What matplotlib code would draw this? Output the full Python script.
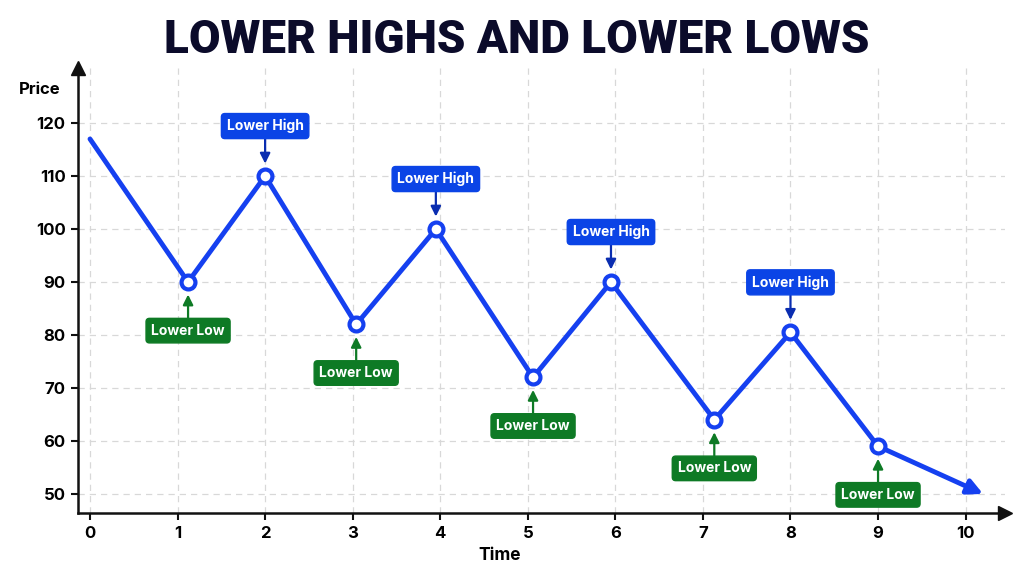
import matplotlib
matplotlib.use("Agg")
import matplotlib.pyplot as plt

# Data
time = [0, 1.12, 2.0, 3.04, 3.95, 5.06, 5.95, 7.13, 8.0, 9.0, 10.2]
price = [117, 90, 110, 82, 100, 72, 90, 64, 80.5, 59, 50]
high_idx = [2, 4, 6, 8]
low_idx = [1, 3, 5, 7, 9]
xticks = [0, 1, 2, 3, 4, 5, 6, 7, 8, 9, 10]
yticks = [50, 60, 70, 80, 90, 100, 110, 120]
title = "LOWER HIGHS AND LOWER LOWS"

LINE_BLUE = "#1540f0"
BOX_BLUE = "#0b44e6"
ARROW_BLUE = "#0a2db0"
GREEN = "#0e7a25"

plt.rcParams['font.family'] = ['Inter', 'DejaVu Sans']

fig = plt.figure(figsize=(10.24, 5.76), dpi=100)
fig.patch.set_facecolor("white")
ax = fig.add_axes([78/1024, 1-513/576, (1005-78)/1024, (513-68)/576])
ax.set_xlim(-0.137, 10.45)
ax.set_ylim(46.4, 130.4)

for s in ["top", "right"]:
    ax.spines[s].set_visible(False)
for s in ["left", "bottom"]:
    ax.spines[s].set_linewidth(1.8)
    ax.spines[s].set_color("#111111")

# axis arrows
ax.plot([0], [1], marker="^", markersize=10, color="#111111", transform=ax.transAxes, clip_on=False)
ax.plot([1], [0], marker=">", markersize=10, color="#111111", transform=ax.transAxes, clip_on=False)

ax.set_xticks(xticks)
ax.set_yticks(yticks)
ax.tick_params(axis="both", length=5, width=1.5, color="#111111", labelsize=12, pad=4)
for lab in ax.get_xticklabels() + ax.get_yticklabels():
    lab.set_fontweight("bold")

ax.grid(True, linestyle=(0, (5, 4)), color="#d8d8d8", linewidth=0.9)
ax.set_axisbelow(True)

# main line with arrow head at end
ax.plot(time[:-1], price[:-1], color=LINE_BLUE, lw=3.5, solid_capstyle="round", zorder=3)
ax.annotate("", xy=(time[-1], price[-1]), xytext=(time[-2], price[-2]),
            arrowprops=dict(arrowstyle="-|>,head_length=0.9,head_width=0.45", color=LINE_BLUE,
                            lw=3.5, shrinkA=0, shrinkB=0), zorder=3)
mk = high_idx + low_idx
ax.plot([time[i] for i in mk], [price[i] for i in mk], linestyle="none", marker="o",
        markersize=10, markerfacecolor="white", markeredgecolor=LINE_BLUE, markeredgewidth=3, zorder=4)

for i in high_idx:
    ax.annotate("Lower High", xy=(time[i], price[i]), xytext=(0, 36), textcoords="offset points",
                ha="center", va="center", color="white", fontsize=10, fontweight="bold",
                bbox=dict(boxstyle="round,pad=0.38,rounding_size=0.25", fc=BOX_BLUE, ec=BOX_BLUE),
                arrowprops=dict(arrowstyle="-|>,head_length=0.6,head_width=0.3", color=ARROW_BLUE,
                                lw=1.6, shrinkA=0, shrinkB=9), zorder=5)
for i in low_idx:
    ax.annotate("Lower Low", xy=(time[i], price[i]), xytext=(0, -35), textcoords="offset points",
                ha="center", va="center", color="white", fontsize=10, fontweight="bold",
                bbox=dict(boxstyle="round,pad=0.38,rounding_size=0.25", fc=GREEN, ec=GREEN),
                arrowprops=dict(arrowstyle="-|>,head_length=0.6,head_width=0.3", color=GREEN,
                                lw=1.6, shrinkA=0, shrinkB=9), zorder=5)

fig.text(40/1024, 1-90/576, "Price", ha="center", va="center", fontsize=12, fontweight="bold")
fig.text(500/1024, 1-556/576, "Time", ha="center", va="center", fontsize=12.5, fontweight="bold")

t = fig.text(517/1024, 1-40/576, title, ha="center", va="center", fontsize=36, fontweight="black",
             color="#0b0b2a", family=["Roboto", "DejaVu Sans"])
# fit title width to ~705 px
fig.canvas.draw()
w = t.get_window_extent().width
t.set_fontsize(36 * 705.0 / w)

fig.savefig("out.png", dpi=100, facecolor="white")
